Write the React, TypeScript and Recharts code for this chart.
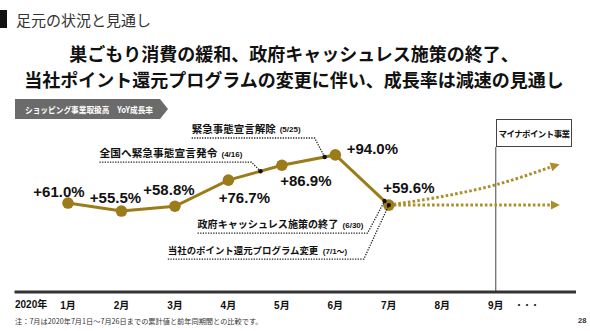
import { LineChart, Line, XAxis, YAxis, ReferenceLine, ReferenceDot, LabelList } from "recharts"

// YoY growth of shopping GMV, Jan–Jul 2020
const MONTHS = [1, 2, 3, 4, 5, 6, 7]
const YOY_GROWTH = [61.0, 55.5, 58.8, 76.7, 86.9, 94.0, 59.6]
const AXIS_MONTHS = [1, 2, 3, 4, 5, 6, 7, 8, 9]

// Outlook after July (two scenarios)
const OUTLOOK_UP_X = [7, 8, 9, 10.05]
const OUTLOOK_UP = [59.6, 65.5, 73.5, 86]
const OUTLOOK_FLAT_X = [7, 10.05]
const OUTLOOK_FLAT = [59.6, 59.6]

// Events along the line (x = month position of the date)
const EVENT_NAMES = ["全国へ緊急事態宣言発令", "緊急事態宣言解除", "政府キャッシュレス施策の終了", "当社のポイント還元プログラム変更"]
const EVENT_DATES = ["(4/16)", "(5/25)", "(6/30)", "(7/1～)"]
const EVENT_X = [4.6, 5.8, 6.92, 7]

const GOLD = "#9c7c1a"
const OUTLOOK_GOLD = "#ad8e2c"
const NUM_FONT = '"Liberation Sans", "Noto Sans CJK JP", sans-serif'
const JP_FONT = '"Noto Sans CJK JP", sans-serif'

// label centre offsets from each point, in px
const LABEL_OFFSETS = [[-9, -12], [-6, -14], [-6, -17], [16, 17], [24, 15], [37, -6], [20, -18]]
// callout layout relative to its dot: underline start/end x, underline y, name width
const CALLOUTS = [
  { x0: -161, x1: -9, uy: -9, w: 118 },
  { x0: -133, x1: -10, uy: -19, w: 84 },
  { x0: -187, x1: -17, uy: 32, w: 141 },
  { x0: -221, x1: -25, uy: 54, w: 151 },
]

const mainData = MONTHS.map((x, i) => ({ x, y: YOY_GROWTH[i] }))
const upData = OUTLOOK_UP_X.map((x, i) => ({ x, y: OUTLOOK_UP[i] }))
const flatData = OUTLOOK_FLAT_X.map((x, i) => ({ x, y: OUTLOOK_FLAT[i] }))

// value on the actual line at a fractional month
function onLine(x: number) {
  const i = Math.min(Math.max(Math.floor(x) - 1, 0), MONTHS.length - 2)
  const t = x - MONTHS[i]
  return YOY_GROWTH[i] + (YOY_GROWTH[i + 1] - YOY_GROWTH[i]) * t
}

function ValueLabel(props: any) {
  const { x, y, value, index } = props
  const [dx, dy] = LABEL_OFFSETS[index]
  return (
    <text x={x + dx} y={y + dy} textAnchor="middle" dominantBaseline="central"
      fontFamily={NUM_FONT} fontWeight="bold" fontSize={15} fill="#111">
      {`+${Number(value).toFixed(1)}%`}
    </text>
  )
}

const arrowDot = (angle: number, last: number) => (props: any) => {
  const { cx, cy, index } = props
  if (index !== last) return <g key={`d-${index}`} />
  return (
    <polygon key={`d-${index}`} points={`${cx - 1},${cy - 4.5} ${cx + 8},${cy} ${cx - 1},${cy + 4.5}`}
      transform={`rotate(${angle} ${cx} ${cy})`} fill={OUTLOOK_GOLD} />
  )
}

const callout = (i: number) => (props: any) => {
  const { cx, cy } = props
  const c = CALLOUTS[i]
  // full-width glyphs: size the name so it fills its slot
  const fs = Math.min(11, c.w / EVENT_NAMES[i].length)
  return (
    <g>
      <polyline points={`${cx + c.x0},${cy + c.uy} ${cx + c.x1},${cy + c.uy} ${cx},${cy}`}
        fill="none" stroke="#222" strokeWidth={1.3} strokeDasharray="1.3 1.3" />
      <text x={cx + c.x0} y={cy + c.uy - 5} fontFamily={JP_FONT} fontWeight="bold" fontSize={fs} fill="#111">
        {EVENT_NAMES[i]}
      </text>
      <text x={cx + c.x0 + c.w + 4} y={cy + c.uy - 5.5} fontFamily={NUM_FONT} fontWeight="bold" fontSize={8} fill="#111">
        {EVENT_DATES[i]}
      </text>
      <circle cx={cx} cy={cy} r={2.2} fill="#111" />
    </g>
  )
}

export default function App() {
  return (
    <div style={{ position: "absolute", left: 0, top: 0, width: 590, height: 331, background: "#fff", fontFamily: JP_FONT }}>
      {/* header */}
      <div style={{ position: "absolute", left: 0, top: 10, width: 7, height: 18, background: "#111" }} />
      <div style={{ position: "absolute", left: 16, top: 9, fontSize: 15, lineHeight: "22px", color: "#333" }}>足元の状況と見通し</div>
      <div style={{ position: "absolute", left: 0, width: 588, top: 40, textAlign: "center", fontSize: 18, fontWeight: "bold", lineHeight: "26px", color: "#111" }}>
        巣ごもり消費の緩和、政府キャッシュレス施策の終了、<br />
        当社ポイント還元プログラムの変更に伴い、成長率は減速の見通し
      </div>
      <svg style={{ position: "absolute", left: 0, top: 0 }} width={590} height={130}>
        <polygon points="15,99 160,99 168,109 160,119 15,119" fill="#6b6b6b" />
        <text x={25} y={109} dominantBaseline="central" fontFamily={JP_FONT} fontWeight="bold" fontSize={8.5} fill="#fff"
          textLength={128} lengthAdjust="spacingAndGlyphs">
          ショッピング事業取扱高　YoY成長率
        </text>
      </svg>

      <div style={{ position: "absolute", left: 0, top: 0 }}>
        <LineChart width={590} height={331} margin={{ top: 117, right: 14, bottom: 9, left: 14.5 }}>
          <XAxis type="number" dataKey="x" domain={[0, 10.5]} ticks={AXIS_MONTHS} allowDataOverflow
            tickFormatter={(v) => `${v}月`} height={30} tickLine={false} tickMargin={4}
            axisLine={{ stroke: "#333", strokeWidth: 3 }}
            tick={{ fill: "#111", fontSize: 10, fontWeight: "bold", fontFamily: NUM_FONT }} />
          <YAxis hide domain={[0, 120]} allowDataOverflow />
          <ReferenceLine segment={[{ x: 9, y: 0 }, { x: 9, y: 99.4 }]} stroke="#444" strokeWidth={1} />
          <Line data={upData} dataKey="y" type="monotone" stroke={OUTLOOK_GOLD} strokeWidth={3}
            strokeDasharray="2.6 2.2" dot={arrowDot(-17, upData.length - 1)} activeDot={false} isAnimationActive={false} />
          <Line data={flatData} dataKey="y" type="linear" stroke={OUTLOOK_GOLD} strokeWidth={3}
            strokeDasharray="2.6 2.2" dot={arrowDot(0, flatData.length - 1)} activeDot={false} isAnimationActive={false} />
          <Line data={mainData} dataKey="y" type="linear" stroke={GOLD} strokeWidth={3}
            dot={{ r: 5.8, fill: GOLD, stroke: "none" }} activeDot={false} isAnimationActive={false}>
            <LabelList dataKey="y" content={<ValueLabel />} />
          </Line>
          {EVENT_X.map((x, i) => (
            <ReferenceDot key={i} x={x} y={onLine(x)} r={2} ifOverflow="visible" shape={callout(i)} />
          ))}
        </LineChart>
      </div>

      {/* box over the September marker */}
      <div style={{ position: "absolute", left: 496, top: 119, width: 76, height: 28, border: "1px solid #444", boxSizing: "border-box", display: "flex", alignItems: "center", justifyContent: "center", fontSize: 8.5, fontWeight: "bold", color: "#111", whiteSpace: "nowrap", letterSpacing: -0.6 }}>
        マイナポイント事業
      </div>

      <div style={{ position: "absolute", left: 15, top: 298, fontSize: 10, fontWeight: "bold", fontFamily: NUM_FONT, color: "#111", lineHeight: "14px" }}>2020年</div>
      <div style={{ position: "absolute", left: 515, top: 298, fontSize: 8, fontWeight: "bold", color: "#111", lineHeight: "14px" }}>・・・</div>
      <div style={{ position: "absolute", left: 15, top: 316, fontSize: 7.2, color: "#333", lineHeight: "10px" }}>
        注：7月は2020年7月1日～7月26日までの累計値と前年同期間との比較です。
      </div>
      <div style={{ position: "absolute", left: 578, top: 316, fontSize: 7.5, fontWeight: "bold", fontFamily: NUM_FONT, color: "#333", lineHeight: "10px" }}>28</div>
    </div>
  )
}
